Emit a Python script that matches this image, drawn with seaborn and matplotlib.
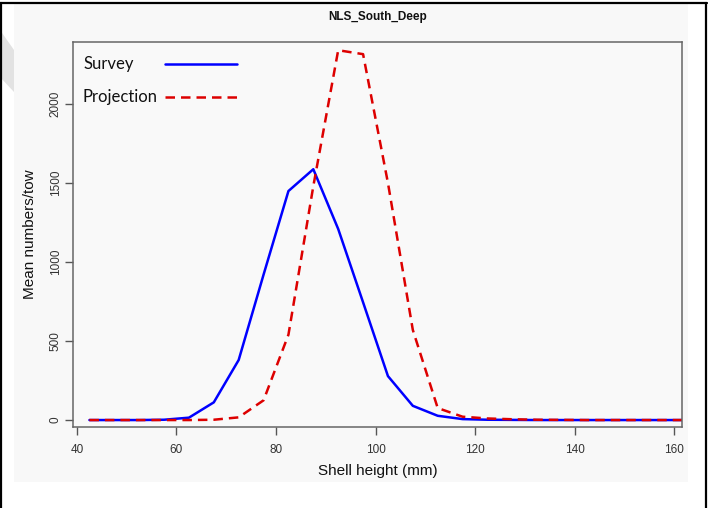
import matplotlib
matplotlib.use("Agg")
import matplotlib.pyplot as plt
import seaborn as sns
import pandas as pd
from matplotlib.patches import Rectangle, Polygon
from matplotlib.lines import Line2D

# ---- data ----
shell_height = [42.5, 47.5, 52.5, 57.5, 62.5, 67.5, 72.5, 77.5, 82.5, 87.5,
                92.5, 97.5, 102.5, 107.5, 112.5, 117.5, 122.5, 127.5, 132.5,
                137.5, 142.5, 147.5, 152.5, 157.5, 162.5]
survey = [0, 0, 0, 2, 15, 112, 380, 920, 1449, 1587,
          1209, 745, 278, 90, 27, 6, 2, 1, 0,
          0, 0, 0, 0, 0, 0]
projection = [0, 0, 0, 0, 0, 2, 17, 125, 540, 1480,
              2340, 2315, 1500, 570, 76, 21, 10, 5, 2,
              1, 0, 0, 0, 0, 0]
series_names = ["Survey", "Projection"]
title = "NLS_South_Deep"
xlabel = "Shell height (mm)"
ylabel = "Mean numbers/tow"
xticks = [40, 60, 80, 100, 120, 140, 160]
yticks = [0, 500, 1000, 1500, 2000]

df = pd.DataFrame({
    "x": shell_height * 2,
    "y": survey + projection,
    "series": [series_names[0]] * len(survey) + [series_names[1]] * len(projection),
})

sns.set_style("white")
plt.rcParams["font.family"] = ["Liberation Sans", "DejaVu Sans"]

W, H = 708, 508
fig = plt.figure(figsize=(W / 100, H / 100), dpi=100)
fig.patch.set_facecolor("white")

def fx(px):
    return px / W

def fy(py):
    return 1 - py / H

# light panel background
fig.patches.append(Rectangle((fx(14), fy(482)), fx(688) - fx(14), fy(4) - fy(482),
                             transform=fig.transFigure, facecolor="#f8f8f8",
                             edgecolor="none", zorder=-10))
# decorative grey shape on the left edge
fig.patches.append(Polygon([(fx(0), fy(30)), (fx(14), fy(50)), (fx(14), fy(92)), (fx(0), fy(77))],
                           closed=True, transform=fig.transFigure, facecolor="#e2e2e2",
                           edgecolor="none", zorder=-9))
# black frame lines
fig.lines.append(Line2D([fx(0), fx(707)], [fy(3), fy(3)], transform=fig.transFigure,
                        color="black", lw=1.6))
fig.lines.append(Line2D([fx(1), fx(1)], [fy(3), fy(508)], transform=fig.transFigure,
                        color="black", lw=1.6))
fig.lines.append(Line2D([fx(706), fx(706)], [fy(3), fy(508)], transform=fig.transFigure,
                        color="black", lw=1.6))

ax = fig.add_axes([fx(73), fy(427), fx(682) - fx(73), fy(42) - fy(427)])
ax.set_facecolor("#f9f9f9")

colors = ["#0000ff", "#dd0000"]
styles = ["-", (0, (3.8, 2.4))]

sns.lineplot(data=df[df.series == series_names[0]], x="x", y="y", ax=ax,
             color=colors[0], linewidth=1.8, linestyle=styles[0], legend=False)
sns.lineplot(data=df[df.series == series_names[1]], x="x", y="y", ax=ax,
             color=colors[1], linewidth=1.8, linestyle=styles[1], legend=False)

ax.set_xlim(39.2, 161.6)
ax.set_ylim(-44, 2392)
ax.set_xticks(xticks)
ax.set_yticks(yticks)
ax.set_xticklabels([str(t) for t in xticks], fontsize=8.5, color="#333333")
ax.set_yticklabels([str(t) for t in yticks], fontsize=8.5, color="#333333",
                   rotation=90, va="center")
ax.tick_params(axis="both", direction="out", length=6, width=1, color="#555555",
               bottom=True, left=True)
ax.tick_params(axis="x", pad=6)
ax.tick_params(axis="y", pad=2)
for s in ax.spines.values():
    s.set_visible(True)
    s.set_color("#666666")
    s.set_linewidth(1.1)

ax.set_xlabel(xlabel, fontsize=11, labelpad=6, color="#111111")
ax.set_ylabel(ylabel, fontsize=11, labelpad=9, color="#111111")
ax.set_title(title, fontsize=8.5, fontweight="bold", pad=16, color="#111111")

# manual legend (text left-aligned, handles in a column after it)
def ax_xy(px, py):
    return ((px - 73) / (682 - 73), (427 - py) / (427 - 42))

for i, name in enumerate(series_names):
    py = 64 + 33 * i
    tx, ty = ax_xy(83, py)
    ax.text(tx, ty, name, transform=ax.transAxes, ha="left", va="center",
            fontsize=12, family=["Lato", "DejaVu Sans"], color="#111111")
    x0, _ = ax_xy(165, py)
    x1, _ = ax_xy(237, py)
    ax.add_line(Line2D([x0, x1], [ty, ty], transform=ax.transAxes, color=colors[i],
                       lw=1.8, linestyle=styles[i]))

fig.savefig("out.png", dpi=100)
